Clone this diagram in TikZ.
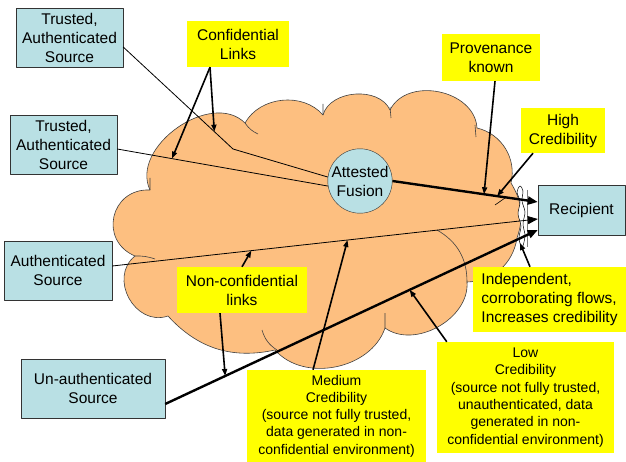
\documentclass[tikz,border=0pt]{standalone}
\usepackage{fontspec}
\setmainfont{Liberation Sans}
\usetikzlibrary{arrows.meta,calc}
\definecolor{cloudfill}{RGB}{253,191,128}
\definecolor{srcblue}{RGB}{185,224,228}
\definecolor{noteyellow}{RGB}{255,255,0}

\begin{document}
\begin{tikzpicture}[x=1pt, y=-1pt, line join=round,
    srcbox/.style={draw=black!80, fill=srcblue, align=center, inner sep=2pt, font=\fontsize{15.5}{19}\selectfont},
    note/.style={fill=noteyellow, align=center, inner sep=2pt, font=\fontsize{15.5}{19}\selectfont},
    smallnote/.style={note, font=\fontsize{14}{17.3}\selectfont},
    link/.style={line width=0.8pt},
    flow/.style={line width=2.4pt},
    pointer/.style={line width=1.6pt, -{Triangle[length=7pt,width=5pt]}},
    tip/.style={-{Triangle[length=10pt,width=8pt]}}]
  \useasboundingbox (0,0) rectangle (626,462);

  % the network cloud
  \draw[fill=cloudfill, draw=black!75, line width=0.6pt]
    (150,190) to[bend right=80, looseness=1.5] (135,256)
    to[bend right=80, looseness=1.3] (168,316)
    to[bend right=30] (275,350)
    to[bend right=60] (385,328)
    to[bend right=65] (467,282)
    to[bend right=40] (517,238)
    to[bend right=25] (511,183)
    to[bend right=45] (477,128)
    to[bend right=75, looseness=1.1] (390,110)
    to[bend right=70] (323,115)
    to[bend right=55] (245,123)
    to[bend right=80, looseness=1.05] (150,190) -- cycle;
  \draw[draw=black!75, line width=0.6pt]
    (150,178) -- (150,190)
    (135,256) to[bend left=10] (155,259)
    (262,330) to[bend right=20] (277,350)
    (385,313) -- (385,328)
    (437,230) to[bend left=30] (467,282)
    (475,125) -- (476,137)
    (390,107) -- (391,118)
    (323,104) -- (323,115)
    (245,123) to[bend right=15] (258,134);
  \draw[line width=0.6pt] (495,205) -- (505,198);

  % flows merging at the recipient
  \draw[fill=white, line width=0.5pt] plot[smooth cycle] coordinates {(520,186) (523,191) (522,201) (525,212) (523,224) (525,236) (522,248) (519,238) (521,226) (518,214) (520,202) (517,192)};
  \draw[gray, line width=0.8pt] (527,190) -- (527,247);

  \node[srcbox, minimum width=107, minimum height=59] (tas1) at (69.5,37.5) {Trusted,\\Authenticated\\Source};
  \node[srcbox, minimum width=107, minimum height=59] (tas2) at (63.5,144.5) {Trusted,\\Authenticated\\Source};
  \node[srcbox, minimum width=108, minimum height=59] (as) at (58,270.5) {Authenticated\\Source};
  \node[srcbox, minimum width=144, minimum height=59] (uas) at (93,388.5) {Un-authenticated\\Source};
  \node[srcbox, minimum width=87, minimum height=50] (rcp) at (581.5,210) {Recipient};
  \node[srcbox, circle, minimum size=64, inner sep=0pt] (fus) at (360,181) {Attested\\Fusion};

  \node[note, minimum width=102, minimum height=46] (conf) at (238,44) {Confidential\\Links};
  \node[note, minimum width=98, minimum height=47] (prov) at (491,57.5) {Provenance\\known};
  \node[note, minimum width=84, minimum height=45] (high) at (563,130.5) {High\\Credibility};
  \node[note, minimum width=130, minimum height=46] (nonc) at (242,290) {Non-confidential\\links};
  \node[note, align=left, minimum width=153, minimum height=65] (indep) at (549.5,299.5) {Independent,\\corroborating flows,\\Increases credibility};
  \node[smallnote, minimum width=179, minimum height=92] (med) at (336.5,416) {Medium\\Credibility\\(source not fully trusted,\\data generated in non-\\confidential environment)};
  \node[smallnote, minimum width=177, minimum height=111] (low) at (525.5,397.5) {Low\\Credibility\\(source not fully trusted,\\unauthenticated, data\\generated in non-\\confidential environment)};

  % links
  \coordinate (k1) at (233,149);
  \draw[link] ([yshift=-9.5pt]tas1.east) coordinate (s1) -- (k1) -- (fus.173);
  \draw[link] ([yshift=-4.5pt]tas2.east) coordinate (s2) -- (fus.189) coordinate (f2);
  \draw[flow, tip] (fus.east) coordinate (f3) -- ([yshift=8pt]rcp.west) coordinate (r1);
  \draw[link, tip] ([yshift=4.5pt]as.east) coordinate (s4) -- ([yshift=-9pt]rcp.west) coordinate (r2);
  \draw[flow, tip] ([yshift=-15.5pt]uas.east) coordinate (s5) -- ([yshift=-20pt]rcp.west) coordinate (r3);

  % where the notes point
  \coordinate (confa) at ($(s2)!0.26!(f2)$);
  \coordinate (confb) at ($(s1)!0.83!(k1)$);
  \coordinate (provp) at ($(f3)!0.63!(r1)$);
  \coordinate (highp) at ($(f3)!0.72!(r1)$);
  \coordinate (nonca) at ($(s4)!0.327!(r2)$);
  \coordinate (noncb) at ($(s5)!0.161!(r3)$);
  \coordinate (medp) at ($(s4)!0.553!(r2)$);
  \coordinate (lowp) at ($(s5)!0.656!(r3)$);
  \coordinate (indp) at (520,243);

  \draw[pointer] ([xshift=-28pt]conf.south) -- (confa);
  \draw[pointer] ([xshift=-28pt]conf.south) -- (confb);
  \draw[pointer] ([xshift=4pt]prov.south) -- (provp);
  \draw[pointer] ([xshift=-30pt]high.south) -- (highp);
  \draw[pointer] (nonc.north) -- (nonca);
  \draw[pointer] ([xshift=-22pt]nonc.south) -- (noncb);
  \draw[pointer] ([xshift=-23.5pt]med.north) -- (medp);
  \draw[pointer] ([xshift=10pt]low.north west) -- (lowp);
  \draw[pointer] ([xshift=-19.5pt]indep.north) -- (indp);
\end{tikzpicture}
\end{document}
